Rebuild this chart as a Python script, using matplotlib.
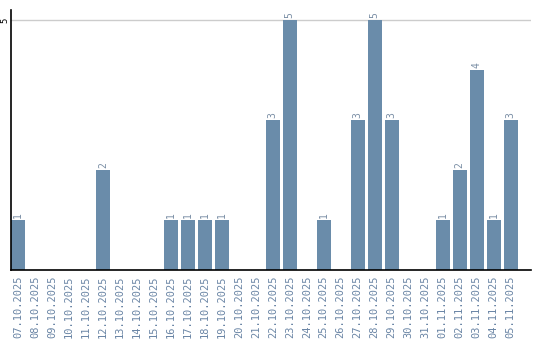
import numpy as np
import matplotlib
matplotlib.use("Agg")
import matplotlib.pyplot as plt

# daily counts, 07.10.2025 - 05.11.2025
dates = ["07.10.2025", "08.10.2025", "09.10.2025", "10.10.2025", "11.10.2025",
         "12.10.2025", "13.10.2025", "14.10.2025", "15.10.2025", "16.10.2025",
         "17.10.2025", "18.10.2025", "19.10.2025", "20.10.2025", "21.10.2025",
         "22.10.2025", "23.10.2025", "24.10.2025", "25.10.2025", "26.10.2025",
         "27.10.2025", "28.10.2025", "29.10.2025", "30.10.2025", "31.10.2025",
         "01.11.2025", "02.11.2025", "03.11.2025", "04.11.2025", "05.11.2025"]
counts = [1, 0, 0, 0, 0, 2, 0, 0, 0, 1, 1, 1, 1, 0, 0,
          3, 5, 0, 1, 0, 3, 5, 3, 0, 0, 1, 2, 4, 1, 3]

bar_col = '#6a8caa'
lab_col = '#6a85a5'

fig = plt.figure(figsize=(5.4, 3.4), dpi=100)
ax = fig.add_axes([11/540, 70/340, 520/540, 260/340])

x = np.arange(len(dates))
ax.bar(x, counts, width=14/17, color=bar_col)
for xi, c in zip(x, counts):
    if c > 0:
        ax.text(xi, c + 0.04, str(c), rotation=90, ha='center', va='bottom',
                fontsize=7, family='DejaVu Sans Mono', color='#7a8ea5')

ax.set_xlim(-0.41, 30.2)
ax.set_ylim(0, 5.2)
ax.set_yticks([5])
ax.set_yticklabels(['5'], rotation=90, va='center', fontsize=6.5, family='DejaVu Sans Mono')
ax.tick_params(axis='y', length=0, pad=1)
ax.axhline(5, color='#cccccc', lw=1, zorder=0)

ax.set_xticks(x)
ax.set_xticklabels(dates, rotation=90, fontsize=7.5, family='DejaVu Sans Mono', color=lab_col)
ax.tick_params(axis='x', length=0, pad=4)

for s in ['top', 'right']:
    ax.spines[s].set_visible(False)
ax.spines['left'].set_linewidth(1.2)
ax.spines['bottom'].set_linewidth(1.2)

fig.savefig('out.png', dpi=100)
